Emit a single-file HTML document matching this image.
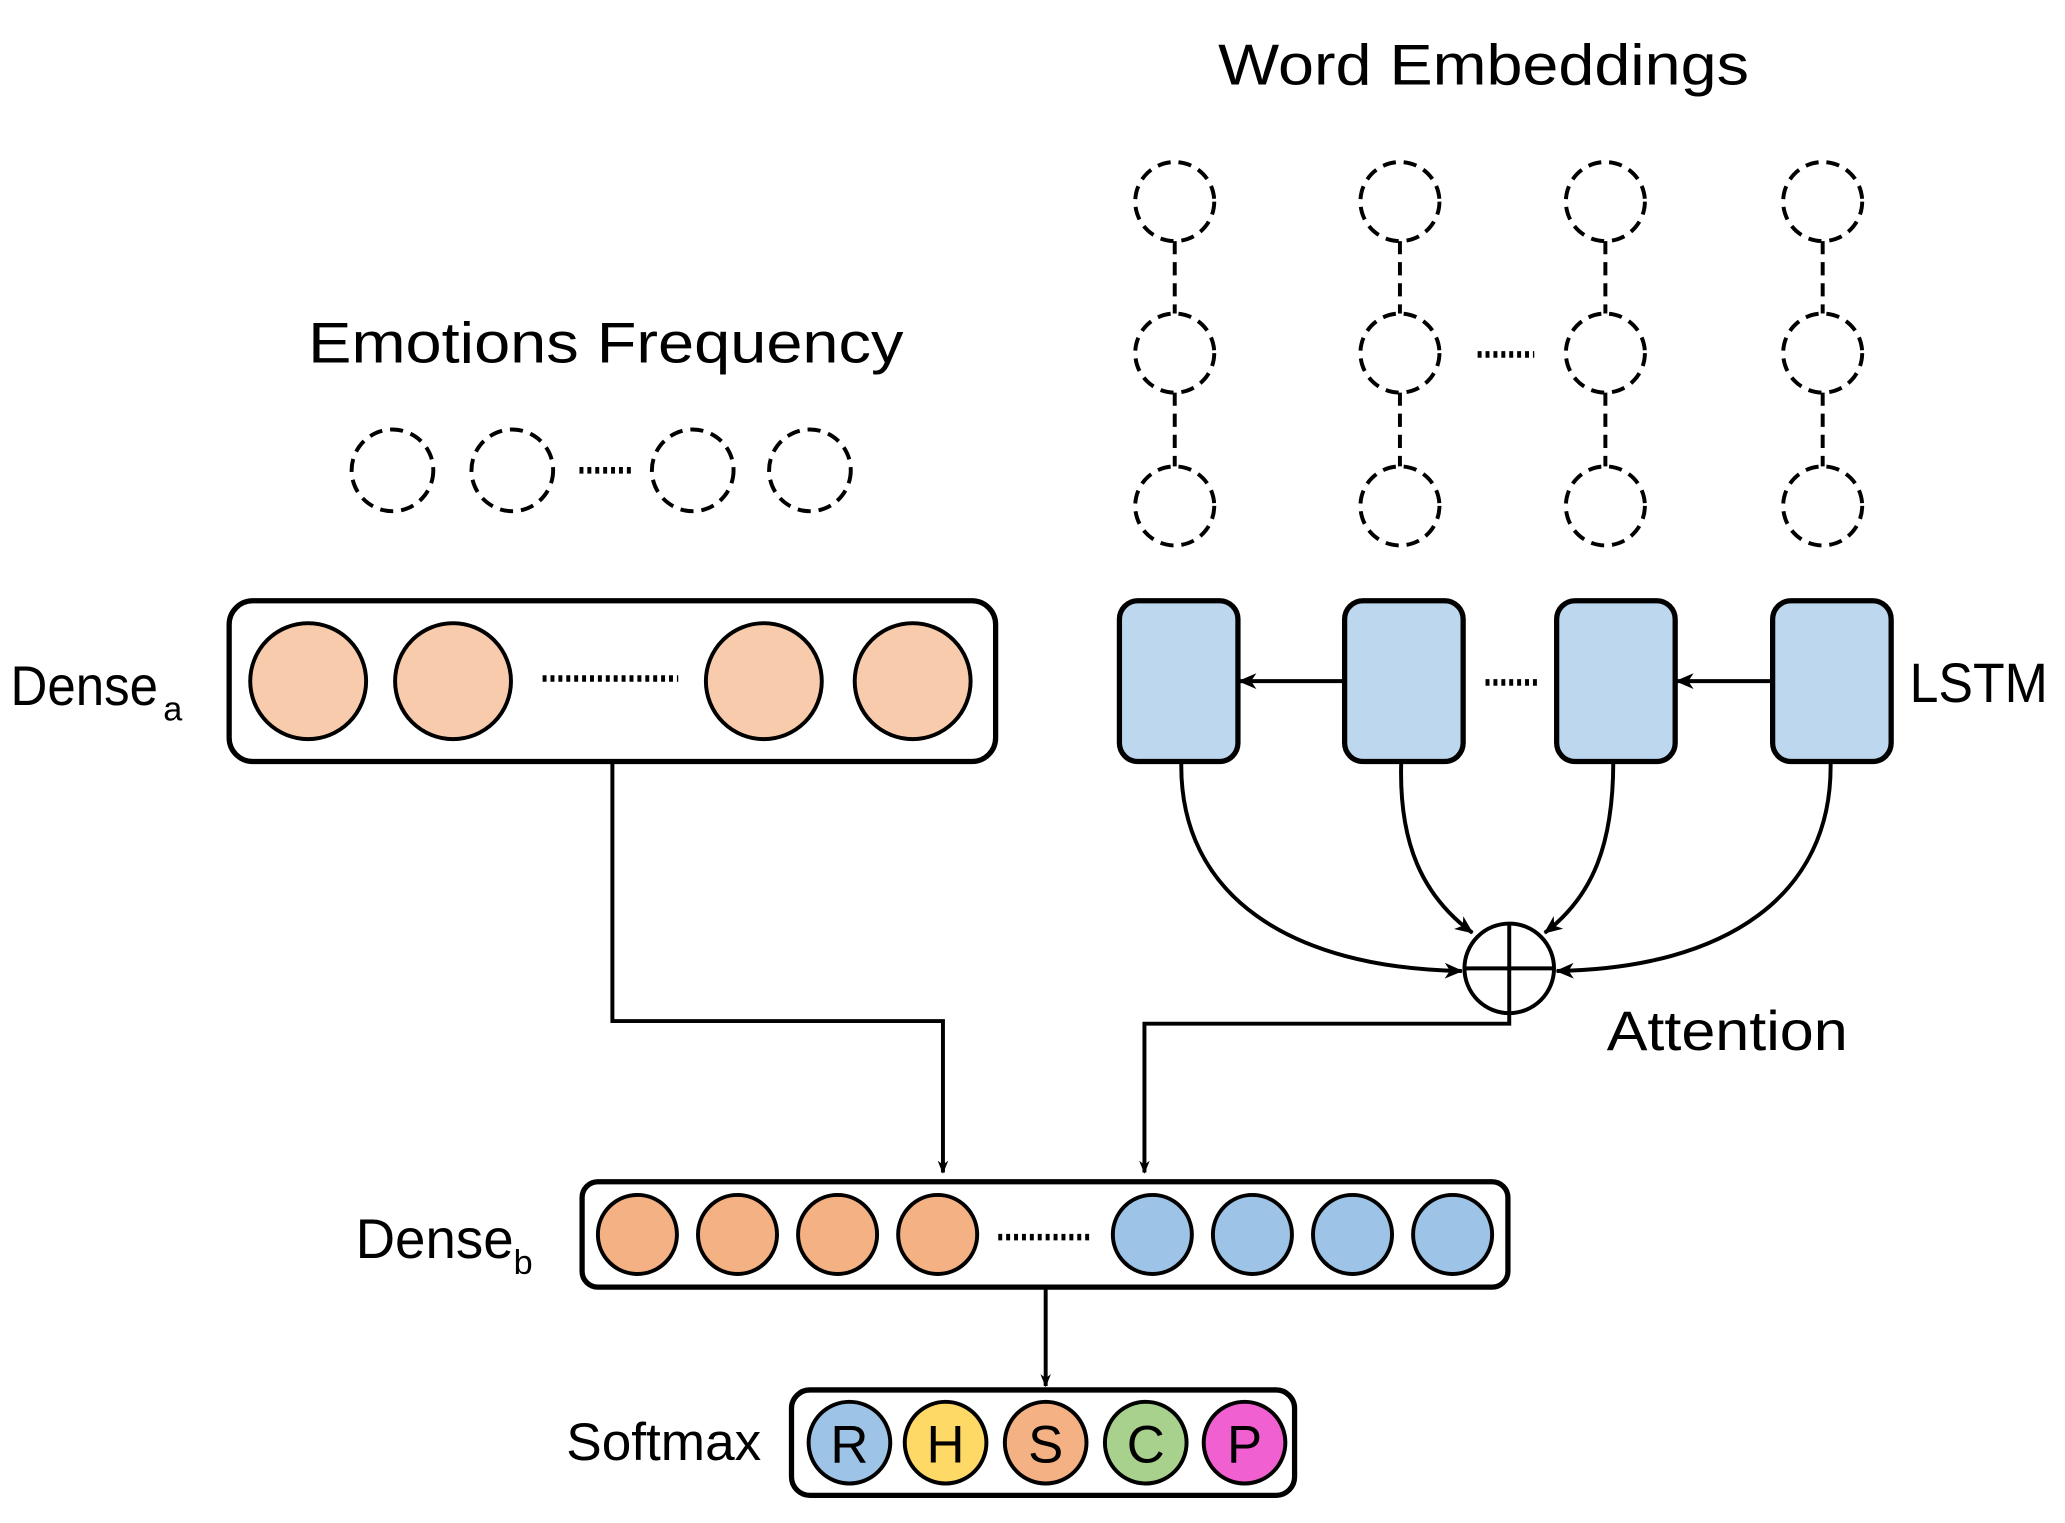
<!DOCTYPE html>
<html><head><style>html,body{margin:0;padding:0;background:#fff}svg{display:block}text{font-family:"Liberation Sans",sans-serif;fill:#000}</style></head><body>
<svg width="2065" height="1523" viewBox="0 0 1568 1156" preserveAspectRatio="none" xmlns="http://www.w3.org/2000/svg">
<defs><marker id="a" markerWidth="10" markerHeight="10" refX="9" refY="5" orient="auto" markerUnits="userSpaceOnUse"><path d="M0,1 L10,5 L0,9 L3,5 Z" fill="#000"/></marker>
<marker id="b" markerWidth="14" markerHeight="12" refX="13" refY="6" orient="auto" markerUnits="userSpaceOnUse"><path d="M0,0 L14,6 L0,12 L4,6 Z" fill="#000"/></marker></defs>
<text x="925" y="64" font-size="44" textLength="403" lengthAdjust="spacingAndGlyphs">Word Embeddings</text>
<text x="234" y="275" font-size="44" textLength="452" lengthAdjust="spacingAndGlyphs">Emotions Frequency</text>
<g fill="none" stroke="#000" stroke-width="3" stroke-dasharray="10,6">
<g id="col"><circle cx="892" cy="153" r="30"/><circle cx="892" cy="268" r="30"/><circle cx="892" cy="384" r="30"/><line x1="892" y1="183" x2="892" y2="238"/><line x1="892" y1="298" x2="892" y2="354"/></g>
<use href="#col" x="171"/><use href="#col" x="327"/><use href="#col" x="492"/>
<circle cx="298" cy="357" r="31"/><circle cx="389" cy="357" r="31"/><circle cx="526" cy="357" r="31"/><circle cx="615" cy="357" r="31"/>
</g>
<rect x="174" y="456" width="582" height="122" rx="18" fill="#fff" stroke="#000" stroke-width="4"/>
<g stroke="#000" stroke-width="5" stroke-dasharray="3,3"><line x1="440" y1="357" x2="481" y2="357"/><line x1="1122" y1="269" x2="1165" y2="269"/><line x1="412" y1="515" x2="515" y2="515"/><line x1="1128" y1="518" x2="1170" y2="518"/><line x1="758" y1="939" x2="830" y2="939"/></g>
<g fill="#f8cbad" stroke="#000" stroke-width="3"><circle cx="234" cy="517" r="44"/><circle cx="344" cy="517" r="44"/><circle cx="580" cy="517" r="44"/><circle cx="693" cy="517" r="44"/></g>
<text x="8" y="535" font-size="42" textLength="112" lengthAdjust="spacingAndGlyphs">Dense</text><text x="124" y="547" font-size="26">a</text>
<g fill="#bdd7ee" stroke="#000" stroke-width="4"><rect x="850" y="456" width="90" height="122" rx="14"/><rect x="1021" y="456" width="90" height="122" rx="14"/><rect x="1182" y="456" width="90" height="122" rx="14"/><rect x="1346" y="456" width="90" height="122" rx="14"/></g>
<g stroke="#000" stroke-width="3" fill="none"><line x1="1021" y1="517" x2="941" y2="517" marker-end="url(#b)"/><line x1="1346" y1="517" x2="1273" y2="517" marker-end="url(#b)"/></g>
<text x="1450" y="533" font-size="42" textLength="105" lengthAdjust="spacingAndGlyphs">LSTM</text>
<g stroke="#000" stroke-width="3" fill="none">
<path d="M897,578 C895,680 980,735 1110,737" marker-end="url(#b)"/>
<path d="M1064,578 C1062,640 1080,680 1118,708" marker-end="url(#b)"/>
<path d="M1225,578 C1225,640 1210,680 1173,708" marker-end="url(#b)"/>
<path d="M1390,578 C1392,680 1310,735 1182,737" marker-end="url(#b)"/>
<circle cx="1146" cy="735" r="34" fill="#fff"/><line x1="1112" y1="735" x2="1180" y2="735"/><line x1="1146" y1="701" x2="1146" y2="769"/>
<polyline points="465,578 465,775 716,775 716,890" marker-end="url(#a)"/>
<polyline points="1146,769 1146,777 869,777 869,890" marker-end="url(#a)"/>
<line x1="794" y1="977" x2="794" y2="1052" marker-end="url(#a)"/>
</g>
<text x="1220" y="797" font-size="42" textLength="183" lengthAdjust="spacingAndGlyphs">Attention</text>
<rect x="442" y="897" width="703" height="80" rx="12" fill="none" stroke="#000" stroke-width="4"/>
<g stroke="#000" stroke-width="3"><g fill="#f4b183"><circle cx="484" cy="937" r="30"/><circle cx="560" cy="937" r="30"/><circle cx="636" cy="937" r="30"/><circle cx="712" cy="937" r="30"/></g>
<g fill="#9dc3e6"><circle cx="875" cy="937" r="30"/><circle cx="951" cy="937" r="30"/><circle cx="1027" cy="937" r="30"/><circle cx="1103" cy="937" r="30"/></g></g>
<text x="270" y="955" font-size="42" textLength="120" lengthAdjust="spacingAndGlyphs">Dense</text><text x="390" y="967" font-size="26">b</text>
<rect x="601" y="1055" width="382" height="80" rx="14" fill="none" stroke="#000" stroke-width="4"/>
<g stroke="#000" stroke-width="3"><circle cx="645" cy="1095" r="31" fill="#9dc3e6"/><circle cx="718" cy="1095" r="31" fill="#ffd966"/><circle cx="794" cy="1095" r="31" fill="#f4b183"/><circle cx="870" cy="1095" r="31" fill="#a9d18e"/><circle cx="945" cy="1095" r="31" fill="#f060d0"/></g>
<g font-size="40" text-anchor="middle"><text x="645" y="1110">R</text><text x="718" y="1110">H</text><text x="794" y="1110">S</text><text x="870" y="1110">C</text><text x="945" y="1110">P</text></g>
<text x="430" y="1108" font-size="40" textLength="148" lengthAdjust="spacingAndGlyphs">Softmax</text>
</svg>
</body></html>
